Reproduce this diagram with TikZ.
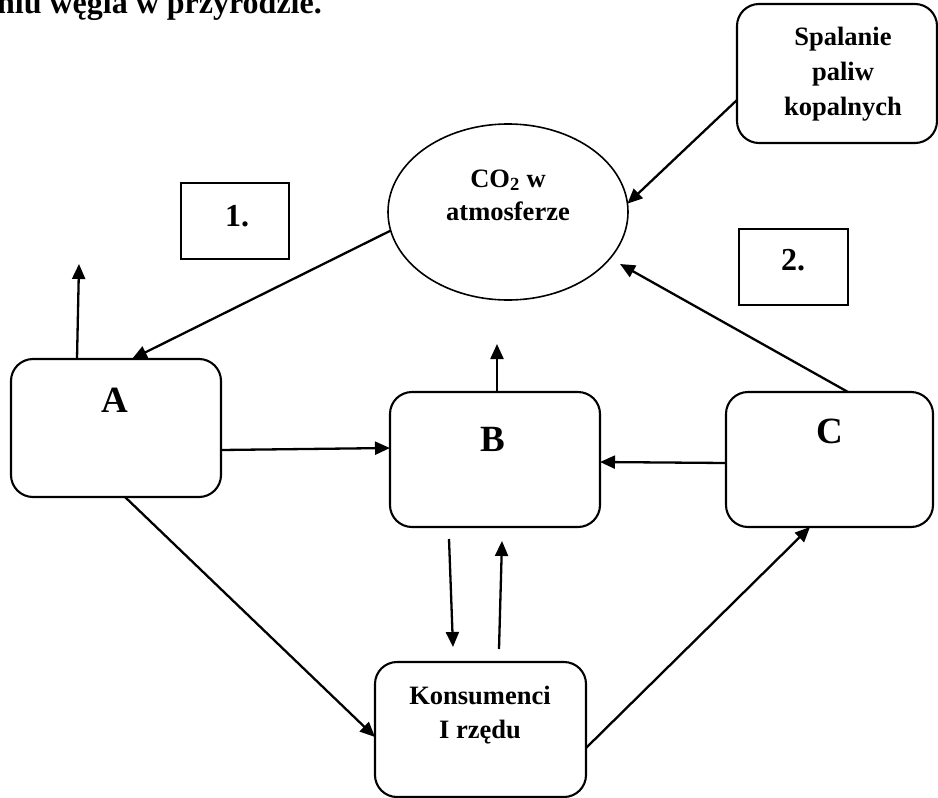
\documentclass[tikz,border=0pt]{standalone}
\usepackage{fontspec}
\setmainfont{Liberation Serif}
\usetikzlibrary{arrows.meta,shapes.geometric,calc}
\begin{document}
\begin{tikzpicture}[x=1pt,y=-1pt,
  rbox/.style={draw,line width=2.1pt,rounded corners=22pt,inner sep=0pt,outer sep=0pt},
  sbox/.style={draw,line width=1.5pt,inner sep=0pt,outer sep=0pt},
  txt/.style={font=\bfseries\fontsize{26.5}{35}\selectfont,inner sep=0pt,anchor=base},
  big/.style={font=\bfseries\fontsize{37}{40}\selectfont,inner sep=0pt,anchor=base},
  num/.style={font=\bfseries\fontsize{32}{36}\selectfont,inner sep=0pt,anchor=base},
  arr/.style={-{Triangle[length=15pt,width=13pt]},line width=2.3pt}]
\useasboundingbox (0,0) rectangle (938,798);

% title
\node[anchor=base east,font=\bfseries\fontsize{32}{36}\selectfont,inner sep=0pt] (title) at (322,13.5) {niu węgla w przyrodzie.};

% boxes
\node[rbox,minimum width=200pt,minimum height=139pt] (S) at (837,73.5) {};
\node[draw,ellipse,line width=1.6pt,minimum width=240pt,minimum height=176pt,inner sep=0pt,outer sep=0pt] (E) at (508,212) {};
\node[sbox,minimum width=108pt,minimum height=76pt] (one) at (235,221) {};
\node[sbox,minimum width=109pt,minimum height=76pt] (two) at (793.5,267) {};
\node[rbox,minimum width=210pt,minimum height=138pt] (A) at (116,428) {};
\node[rbox,minimum width=210pt,minimum height=135pt] (B) at (495,459.5) {};
\node[rbox,minimum width=207pt,minimum height=135pt] (C) at (829.5,459.5) {};
\node[rbox,minimum width=211pt,minimum height=135pt] (K) at (480.5,729.5) {};

% texts
\node[txt] (s1) at (843,45) {Spalanie};
\node[txt] (s2) at (843,80) {paliw};
\node[txt] (s3) at (843,115) {kopalnych};
\node[txt] (e1) at (508,187) {CO\textsubscript{2} w};
\node[txt] (e2) at (508,220) {atmosferze};
\node[num] (n1) at (237,226) {1.};
\node[num] (n2) at (793,270) {2.};
\node[big] (tA) at (115,412) {A};
\node[big] (tB) at (493,451) {B};
\node[big] (tC) at (830,443) {C};
\node[txt] (k1) at (480,704) {Konsumenci};
\node[txt] (k2) at (480,738) {I rzędu};

% free ends
\coordinate (upA) at (79,264);
\coordinate (upB) at (497,344);
\coordinate (toE) at (620,264);
\coordinate (bd1) at (449,539);
\coordinate (bd2) at (453,647);
\coordinate (kb1) at (499,649);
\coordinate (kb2) at (502,541);

% connectors
\draw[arr] (E.189) -- ($(A.north west)+(121,0)$);
\draw[arr] ($(A.north west)+(66,0)$) -- (upA);
\draw[arr] ($(A.north east)+(0,91)$) -- ($(B.north west)+(0,56)$);
\draw[arr] ($(B.north west)+(107,0)$) -- (upB);
\draw[arr] ($(S.north west)+(0,96)$) -- (E.4);
\draw[arr] ($(C.north west)+(122,0)$) -- (toE);
\draw[arr] ($(C.north west)+(0,71)$) -- ($(B.north east)+(0,70)$);
\draw[arr] (bd1) -- (bd2);
\draw[arr] (kb1) -- (kb2);
\draw[arr] ($(A.south west)+(114,0)$) -- ($(K.north west)+(0,75)$);
\draw[arr] ($(K.north east)+(0,86)$) -- ($(C.south west)+(84,0)$);
\end{tikzpicture}
\end{document}
